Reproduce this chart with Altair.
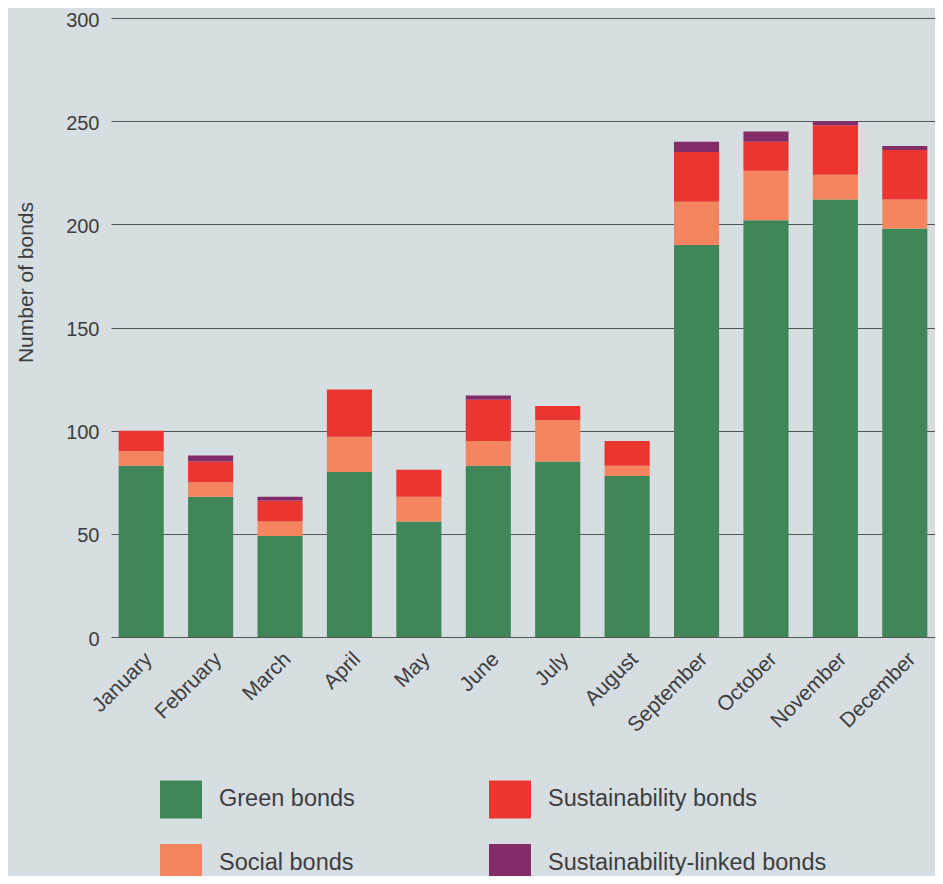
import altair as alt
import pandas as pd

months = ["January", "February", "March", "April", "May", "June",
          "July", "August", "September", "October", "November", "December"]
green = [83, 68, 49, 80, 56, 83, 85, 78, 190, 202, 212, 198]
social = [7, 7, 7, 17, 12, 12, 20, 5, 21, 24, 12, 14]
sustainability = [10, 10, 10, 23, 13, 20, 7, 12, 24, 14, 24, 24]
linked = [0, 3, 2, 0, 0, 2, 0, 0, 5, 5, 2, 2]

series_names = ["Green bonds", "Social bonds", "Sustainability bonds", "Sustainability-linked bonds"]
series_colors = ["#3f8759", "#f5855f", "#ea3531", "#832c68"]
y_ticks = [0, 50, 100, 150, 200, 250, 300]

rows = []
for i, m in enumerate(months):
    for k, (name, vals) in enumerate(zip(series_names, [green, social, sustainability, linked])):
        rows.append({"month": m, "type": name, "count": vals[i], "stack": k})
df = pd.DataFrame(rows)

TEXT = "#3d3d3f"
FONT = "Liberation Sans"

chart = alt.Chart(df).mark_bar().encode(
    x=alt.X("month:N", sort=months, title=None,
            scale=alt.Scale(paddingInner=0.35, paddingOuter=0.11),
            axis=alt.Axis(labelAngle=-45, labelFontSize=21, labelPadding=11,
                          ticks=False, domain=False, grid=False,
                          labelColor=TEXT, labelFont=FONT)),
    y=alt.Y("count:Q", stack="zero", title="Number of bonds",
            scale=alt.Scale(domain=[0, 300]),
            axis=alt.Axis(values=y_ticks, grid=True, gridColor="#555555", gridWidth=1,
                          domain=False, ticks=False, tickSize=0,
                          labelFontSize=20, labelPadding=12, labelOffset=2,
                          labelColor=TEXT, labelFont=FONT,
                          titleFontSize=21, titleFontWeight="normal", titleColor=TEXT, titleFont=FONT,
                          titleX=-85, titleY=264, titleAngle=270, titleAlign="center",
                          titleBaseline="middle")),
    color=alt.Color("type:N",
                    scale=alt.Scale(domain=series_names, range=series_colors),
                    legend=alt.Legend(title=None, orient="none", legendX=49, legendY=760,
                                      columns=2, columnPadding=134, rowPadding=23,
                                      symbolType="M-1,-0.905L1,-0.905L1,0.905L-1,0.905Z",
                                      symbolSize=1764, symbolStrokeWidth=0, symbolOpacity=1,
                                      labelFontSize=23.5, labelOffset=17, labelColor=TEXT,
                                      labelFont=FONT, padding=0, labelLimit=400)),
    order=alt.Order("stack:Q", sort="ascending"),
).properties(
    width=824, height=619, background="#d6dee1",
    padding={"left": 103, "top": 10, "right": 0, "bottom": 239},
    autosize=alt.AutoSizeParams(type="none"),
).configure_view(stroke=None).configure(font=FONT)

chart.save("out.html", embed_options={"renderer": "svg", "actions": False})
